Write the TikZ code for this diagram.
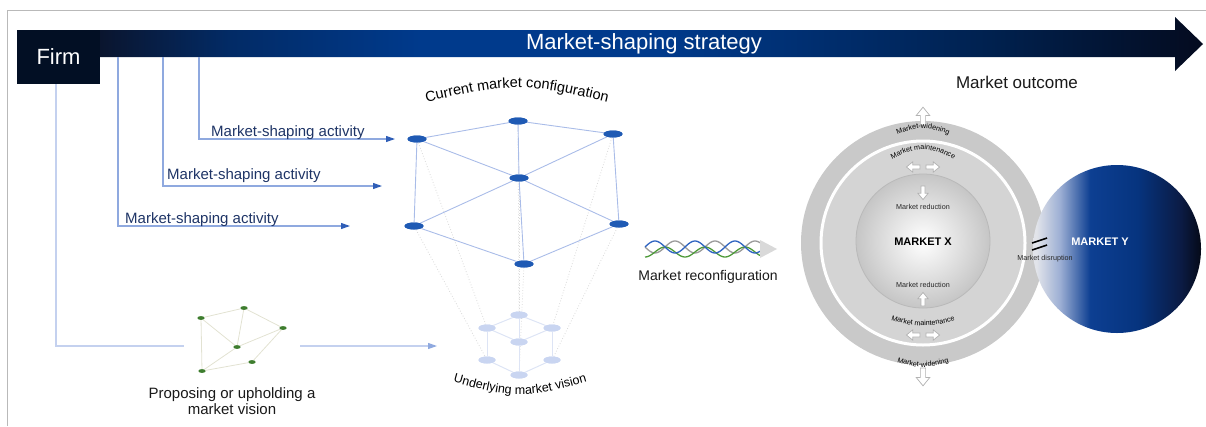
\documentclass[tikz,border=0pt]{standalone}
\usepackage{fontspec}
\setmainfont{Liberation Sans}
\usetikzlibrary{arrows.meta, shapes.geometric, decorations.text}

\definecolor{firmblack}{HTML}{020F24}
\definecolor{bardark}{HTML}{0B1329}
\definecolor{barmid}{HTML}{022B66}
\definecolor{barblue}{HTML}{003A8C}
\definecolor{barfade}{HTML}{00214F}
\definecolor{barend}{HTML}{040B1F}
\definecolor{linkblue}{HTML}{8FA9DF}
\definecolor{tipblue}{HTML}{2F5EB7}
\definecolor{actblue}{HTML}{1E3466}
\definecolor{faintline}{HTML}{C4D1EF}
\definecolor{nodeblue}{HTML}{1F5AB4}
\definecolor{curedge}{HTML}{A9BCE8}
\definecolor{visblue}{HTML}{C9D5F1}
\definecolor{visedge}{HTML}{DDE4F5}
\definecolor{ideagreen}{HTML}{3E7D2E}
\definecolor{ideaedge}{HTML}{E2E2D2}
\definecolor{waveblue}{HTML}{2E63C0}
\definecolor{wavegray}{HTML}{9A9A9A}
\definecolor{wavegreen}{HTML}{4E9A3A}
\definecolor{ringgray}{HTML}{C9C9C9}
\definecolor{bandgray}{HTML}{D4D4D4}
\definecolor{ylight}{HTML}{E2E4EA}
\definecolor{ysoft}{HTML}{9DAFD4}
\definecolor{yblue}{HTML}{0D3F92}
\definecolor{ydeep}{HTML}{06347F}
\definecolor{ydark}{HTML}{0B1B44}
\definecolor{yend}{HTML}{050A18}

\pgfdeclarehorizontalshading{barshade}{100bp}{color(0bp)=(bardark); color(28bp)=(bardark); color(34bp)=(barmid); color(42bp)=(barblue); color(52bp)=(barblue); color(66bp)=(barfade); color(75bp)=(barend); color(100bp)=(barend)}
\pgfdeclarehorizontalshading{yshade}{100bp}{color(0bp)=(ylight); color(26bp)=(ylight); color(33bp)=(ysoft); color(42bp)=(yblue); color(56bp)=(ydeep); color(69bp)=(ydark); color(75bp)=(yend); color(100bp)=(yend)}

\tikzset{hollow/.pic = {\draw[gray!60, fill=white, line width=0.7] (-2.5,0) -- (-2.5,-9) -- (-6.5,-9) -- (0,-17) -- (6.5,-9) -- (2.5,-9) -- (2.5,0) -- cycle;}}

\begin{document}
\begin{tikzpicture}[x=1pt, y=-1pt,
    cur/.style = {ellipse, fill=nodeblue, minimum width=19pt, minimum height=7pt, inner sep=0pt},
    vis/.style = {ellipse, fill=visblue, minimum width=17pt, minimum height=7pt, inner sep=0pt},
    idea/.style = {ellipse, fill=ideagreen, minimum width=7pt, minimum height=3.5pt, inner sep=0pt},
    act/.style = {text=actblue, font=\fontsize{15}{18}\selectfont, anchor=base west, inner sep=0pt},
    link/.style = {draw=linkblue, line width=1.1, -{Triangle[length=9pt, width=6pt, color=tipblue]}},
    lab/.style = {font=\fontsize{7.2}{8}\selectfont, text=black!85, inner sep=0pt}]
    \useasboundingbox (0,0) rectangle (1206,426);
    \draw[gray!55, line width=1] (7,426) -- (7,10) -- (1206,10);

    \shade[shading=barshade] (17,30) -- (1175,30) -- (1175,17) -- (1203,44) -- (1175,71) -- (1175,57) -- (17,57) -- cycle;
    \node[fill=firmblack, minimum width=83pt, minimum height=54pt, inner sep=0pt, text=white, font=\fontsize{22}{26}\selectfont] (firm) at (58.5,57) {Firm};
    \node[text=white, font=\fontsize{22}{26}\selectfont] (strategy) at (644,44) {Market-shaping strategy};

    \coordinate (a1) at (199,57);
    \coordinate (a2) at (163,57);
    \coordinate (a3) at (118,57);
    \coordinate (t1) at (395,139);
    \coordinate (t2) at (382,186);
    \coordinate (t3) at (350,226);
    \draw[link] (a1) |- (t1);
    \draw[link] (a2) |- (t2);
    \draw[link] (a3) |- (t3);
    \node[act] (l1) at (211,136) {Market-shaping activity};
    \node[act] (l2) at (167,179) {Market-shaping activity};
    \node[act] (l3) at (125,223) {Market-shaping activity};

    \coordinate (f0) at (56,84);
    \coordinate (gl) at (184,346);
    \coordinate (gr) at (300,346);
    \coordinate (vt) at (437,346);
    \draw[faintline, line width=1.1] (f0) |- (gl);
    \draw[faintline, line width=1.1, -{Triangle[length=9pt, width=6pt, color=linkblue]}] (gr) -- (vt);

    \node[idea] (g1) at (201,318) {};
    \node[idea] (g2) at (244,308) {};
    \node[idea] (g3) at (283,328) {};
    \node[idea] (g4) at (237,347) {};
    \node[idea] (g5) at (252,362) {};
    \node[idea] (g6) at (202,371) {};
    \foreach \p/\q in {g1/g2, g2/g3, g1/g6, g1/g4, g2/g4, g3/g4, g3/g5, g6/g4, g6/g5}
        \draw[ideaedge, line width=0.8] (\p) -- (\q);
    \foreach \n in {g1, g2, g3, g4, g5, g6}
        \node[idea] at (\n) {};
    \node[align=center, font=\fontsize{15}{15.5}\selectfont, text=black!90] (propose) at (232,401) {Proposing or upholding a\\market vision};

    \node[vis] (v1) at (519,315) {};
    \node[vis] (v2) at (487,328) {};
    \node[vis] (v3) at (552,328) {};
    \node[vis] (v4) at (519,342) {};
    \node[vis] (v5) at (487,360) {};
    \node[vis] (v6) at (552,360) {};
    \node[vis] (v7) at (519,375) {};

    \node[cur] (n1) at (417,139) {};
    \node[cur] (n2) at (518,121) {};
    \node[cur] (n3) at (613,134) {};
    \node[cur] (n4) at (519,178) {};
    \node[cur] (n5) at (414,226) {};
    \node[cur] (n6) at (619,224) {};
    \node[cur] (n7) at (524,264) {};

    \foreach \p/\q in {n1/v2, n5/v5, n3/v3, n6/v6, n7/v7, n4/v4, n2/v1}
        \draw[gray!30, dotted, line width=0.8] (\p) -- (\q);
    \foreach \p/\q in {v1/v2, v1/v3, v2/v4, v3/v4, v2/v5, v3/v6, v1/v4, v4/v7, v5/v7, v6/v7}
        \draw[visedge, line width=1] (\p) -- (\q);
    \foreach \p/\q in {n1/n2, n2/n3, n1/n5, n3/n6, n1/n4, n2/n4, n3/n4, n4/n5, n4/n6, n4/n7, n5/n7, n6/n7}
        \draw[curedge, line width=0.9] (\p) -- (\q);
    \foreach \n in {v1, v2, v3, v4, v5, v6, v7}
        \node[vis] at (\n) {};
    \foreach \n in {n1, n2, n3, n4, n5, n6, n7}
        \node[cur] at (\n) {};

    \path[decorate, decoration={text along path, text align=center, text={|\fontsize{14.5}{16}\selectfont|Current market configuration}}] (395,110) .. controls (517,80) .. (639,110);
    \path[decorate, decoration={text along path, text align=center, text={|\fontsize{12.5}{14}\selectfont|Underlying market vision}}] (420,372) .. controls (520,402) .. (620,372);

    \draw[wavegray, line width=1.3, domain=645:760, samples=80, smooth] plot (\x, {247 + 6*sin(9*(\x-645))});
    \draw[wavegreen, line width=1.3, domain=645:760, samples=80, smooth] plot (\x, {252 - 5*sin(9*(\x-655))});
    \draw[waveblue, line width=1.3, domain=645:760, samples=80, smooth] plot (\x, {247 - 6*sin(9*(\x-645))});
    \fill[gray!30] (760,240) -- (777,249) -- (760,258) -- cycle;
    \node[font=\fontsize{14}{16}\selectfont, text=black!90] (reconf) at (708,277) {Market reconfiguration};

    \node[font=\fontsize{17}{20}\selectfont, text=black!90] (outcome) at (1017,82) {Market outcome};
    \fill[ringgray] (923,243) circle (122);
    \fill[bandgray] (923,243) circle (101);
    \draw[white, line width=3] (923,243) circle (102);
    \shade[inner color=white, outer color=gray!45] (923,241) circle (67);
    \draw[gray!55, line width=0.8] (923,241) circle (67);
    \node[font=\bfseries\fontsize{11}{13}\selectfont] (mx) at (923,242) {MARKET X};

    \shade[shading=yshade] (1117,249) circle (84);
    \node[font=\bfseries\fontsize{11}{13}\selectfont, text=white] (my) at (1100,242) {MARKET Y};
    \draw[line width=1.6] (1032,243) -- (1047,238);
    \draw[line width=1.6] (1032,250) -- (1047,245);
    \node[lab] (disrupt) at (1045,259) {Market disruption};

    \pic[scale=1.05] at (923,125) {hollow};
    \pic[rotate=180, scale=1.05] at (923,368) {hollow};
    \pic[rotate=90, scale=0.8] at (920,167) {hollow};
    \pic[rotate=-90, scale=0.8] at (926,167) {hollow};
    \pic[rotate=180, scale=0.8] at (923,186) {hollow};
    \pic[scale=0.8] at (923,306) {hollow};
    \pic[rotate=90, scale=0.8] at (920,335) {hollow};
    \pic[rotate=-90, scale=0.8] at (926,335) {hollow};

    \path[decorate, decoration={text along path, text align=center, text={|\fontsize{7.2}{8}\selectfont|Market-widening}}] (873,145) .. controls (923,123) .. (973,145);
    \path[decorate, decoration={text along path, text align=center, text={|\fontsize{7.2}{8}\selectfont|Market maintenance}}] (868,172) .. controls (923,142) .. (978,172);
    \node[lab] (red1) at (923,207) {Market reduction};
    \node[lab] (red2) at (923,285) {Market reduction};
    \path[decorate, decoration={text along path, text align=center, text={|\fontsize{7.2}{8}\selectfont|Market maintenance}}] (863,311) .. controls (923,331) .. (983,311);
    \path[decorate, decoration={text along path, text align=center, text={|\fontsize{7.2}{8}\selectfont|Market-widening}}] (868,352) .. controls (923,372) .. (978,352);
\end{tikzpicture}
\end{document}
